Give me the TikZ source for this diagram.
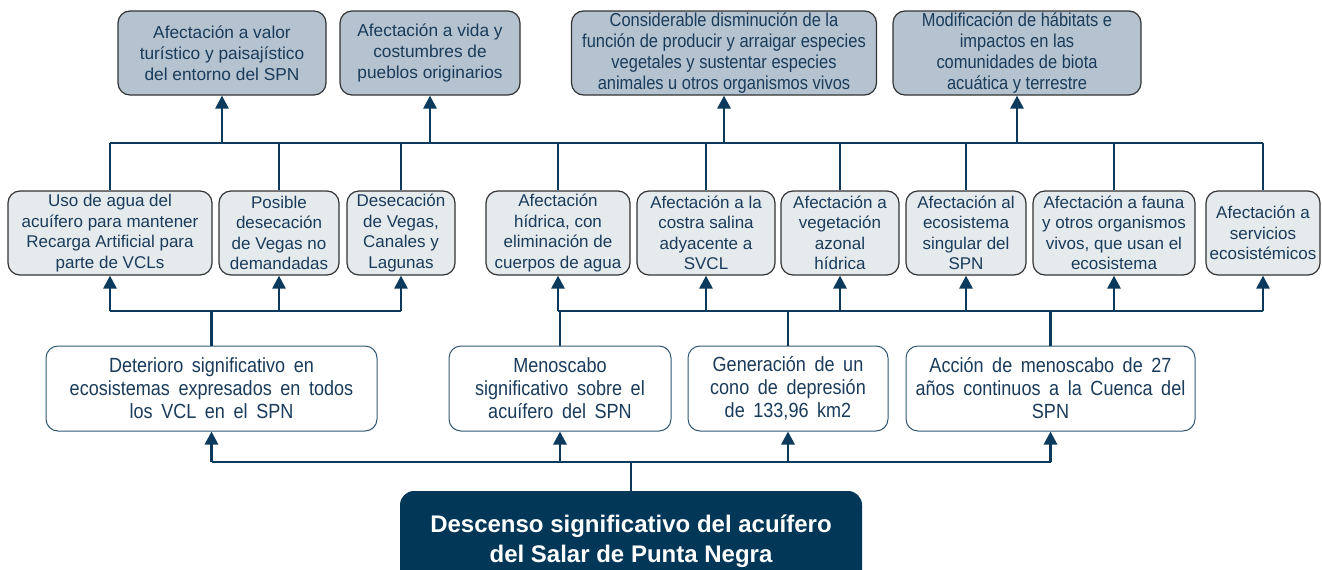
\documentclass[tikz,border=0pt]{standalone}
\usepackage{fontspec}
\setmainfont{Liberation Sans}
\newfontfamily\narrowfont[FakeStretch=0.88]{Liberation Sans}
\usetikzlibrary{arrows.meta}
\definecolor{navy}{HTML}{0B3A5C}
\definecolor{txt}{HTML}{1A3B5A}
\definecolor{topfill}{HTML}{B4C3CF}
\definecolor{midfill}{HTML}{E5EAED}
\definecolor{bord}{HTML}{333333}
\definecolor{rootfill}{HTML}{033758}
\newcommand\widespaces{\spaceskip=0.42em plus 0.1em\relax}
\begin{document}
\begin{tikzpicture}[x=1pt,y=-1pt,
 base/.style={rounded corners=12pt, align=center, inner sep=0pt, text=txt},
 topbox/.style={base, draw=bord, line width=1.2pt, fill=topfill, minimum height=84pt, font=\fontsize{17.3}{21}\selectfont},
 midbox/.style={base, draw=bord, line width=1.2pt, fill=midfill, minimum height=84pt, font=\fontsize{17}{20.5}\selectfont},
 botbox/.style={base, draw=navy!85, line width=1pt, fill=white, minimum height=85pt, font=\narrowfont\fontsize{20.5}{23}\selectfont\widespaces},
 rootbox/.style={rounded corners=14pt, fill=rootfill, text=white, align=center, inner sep=0pt, minimum height=100pt, font=\bfseries\fontsize{24}{30}\selectfont},
 bus/.style={draw=navy, line width=2.8pt},
 arr/.style={bus, -{Triangle[width=13pt,length=13pt]}},
]
\useasboundingbox (0,0) rectangle (1322,570);

% top row
\node[topbox, minimum width=208pt] (t1) at (222,53) {Afectación a valor\\turístico y paisajístico\\del entorno del SPN};
\node[topbox, minimum width=180pt] (t2) at (430,53) {Afectación a vida y\\costumbres de\\pueblos originarios};
\node[topbox, minimum width=305pt, font=\narrowfont\fontsize{18.7}{21}\selectfont] (t3) at (724,53) {Considerable disminución de la\\función de producir y arraigar especies\\vegetales y sustentar especies\\animales u otros organismos vivos};
\node[topbox, minimum width=248pt, font=\narrowfont\fontsize{18.7}{21}\selectfont] (t4) at (1017,53) {Modificación de hábitats e\\impactos en las\\comunidades de biota\\acuática y terrestre};

% middle row
\node[midbox, minimum width=204pt] (m1) at (110,233) {Uso de agua del\\acuífero para mantener\\Recarga Artificial para\\parte de VCLs};
\node[midbox, minimum width=120pt] (m2) at (279,233) {Posible\\desecación\\de Vegas no\\demandadas};
\node[midbox, minimum width=108pt] (m3) at (401,233) {Desecación\\de Vegas,\\Canales y\\Lagunas};
\node[midbox, minimum width=144pt] (m4) at (558,233) {Afectación\\hídrica, con\\eliminación de\\cuerpos de agua};
\node[midbox, minimum width=138pt] (m5) at (706,233) {Afectación a la\\costra salina\\adyacente a\\SVCL};
\node[midbox, minimum width=118pt] (m6) at (840,233) {Afectación a\\vegetación\\azonal\\hídrica};
\node[midbox, minimum width=120pt] (m7) at (966,233) {Afectación al\\ecosistema\\singular del\\SPN};
\node[midbox, minimum width=162pt] (m8) at (1114,233) {Afectación a fauna\\y otros organismos\\vivos, que usan el\\ecosistema};
\node[midbox, minimum width=114pt] (m9) at (1263,233) {Afectación a\\servicios\\ecosistémicos};

% bottom row
\node[botbox, minimum width=331pt] (b1) at (211.5,388.5) {Deterioro significativo en\\ecosistemas expresados en todos\\los VCL en el SPN};
\node[botbox, minimum width=222pt] (b2) at (560,388.5) {Menoscabo\\significativo sobre el\\acuífero del SPN};
\node[botbox, minimum width=200pt] (b3) at (788,388.5) {Generación de un\\cono de depresión\\de 133,96 km2};
\node[botbox, minimum width=289pt] (b4) at (1050.5,388.5) {Acción de menoscabo de 27\\años continuos a la Cuenca del\\SPN};

% root
\node[rootbox, minimum width=462pt] (r) at (631,541) {Descenso significativo del acuífero\\del Salar de Punta Negra};

% bus coordinates
\coordinate (tb) at (0,143);
\coordinate (lb) at (0,311);
\coordinate (bb) at (0,462);

% top bus
\draw[bus] (m1.north |- tb) -- (m9.north |- tb);
\foreach \m in {m1,m2,m3,m4,m5,m6,m7,m8,m9}{\draw[bus] (\m.north) -- (\m.north |- tb);}
\foreach \t in {t1,t2,t3,t4}{\draw[arr] (\t.south |- tb) -- (\t.south);}

% lower buses
\draw[bus] (m1.south |- lb) -- (m3.south |- lb);
\draw[bus] (b1.north) -- (b1.north |- lb);
\foreach \m in {m1,m2,m3}{\draw[arr] (\m.south |- lb) -- (\m.south);}
\draw[bus] (m4.south |- lb) -- (m9.south |- lb);
\foreach \b in {b2,b3,b4}{\draw[bus] (\b.north) -- (\b.north |- lb);}
\foreach \m in {m4,m5,m6,m7,m8,m9}{\draw[arr] (\m.south |- lb) -- (\m.south);}

% bottom bus
\draw[bus] (b1.south |- bb) -- (b4.south |- bb);
\draw[bus] (r.north) -- (r.north |- bb);
\foreach \b in {b1,b2,b3,b4}{\draw[arr] (\b.south |- bb) -- (\b.south);}
\end{tikzpicture}
\end{document}
